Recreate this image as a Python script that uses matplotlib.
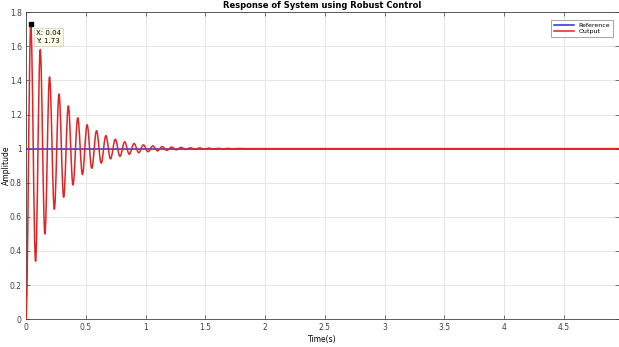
import matplotlib
matplotlib.use("Agg")
import matplotlib.pyplot as plt
from matplotlib.path import Path
from matplotlib.patches import PathPatch
from matplotlib.lines import Line2D

# ---- data ----
peak_t = [0.04, 0.119, 0.197, 0.276, 0.354, 0.433, 0.511, 0.590, 0.668, 0.747,
          0.825, 0.904, 0.982, 1.061, 1.139, 1.218, 1.296, 1.375, 1.453, 1.532,
          1.610, 1.689, 1.767]
peak_y = [1.73, 1.58, 1.42, 1.32, 1.25, 1.18, 1.14, 1.105, 1.076, 1.055,
          1.04, 1.03, 1.022, 1.016, 1.012, 1.009, 1.007, 1.005, 1.004, 1.003,
          1.002, 1.0015, 1.001]
trough_t = [0.080, 0.158, 0.237, 0.315, 0.393, 0.472, 0.550, 0.629, 0.707, 0.786,
            0.864, 0.943, 1.021, 1.100, 1.178, 1.257, 1.335, 1.414, 1.492, 1.571,
            1.649, 1.728]
trough_y = [0.34, 0.50, 0.645, 0.715, 0.787, 0.848, 0.885, 0.915, 0.94, 0.955,
            0.967, 0.976, 0.982, 0.987, 0.990, 0.993, 0.995, 0.996, 0.997, 0.998,
            0.9985, 0.999]
t_start, y_start = 0.0, 0.0
settle_t, settle_y = 1.85, 1.0
t_end, y_end = 5.0, 1.0
ref_t = [0.0, 5.0]
ref_y = [1.0, 1.0]
tip_x, tip_y = 0.04, 1.73

# output extrema in order: start, peak, trough, peak, ...
ext_t = [t_start]
ext_y = [y_start]
for i in range(len(peak_t)):
    ext_t.append(peak_t[i]); ext_y.append(peak_y[i])
    if i < len(trough_t):
        ext_t.append(trough_t[i]); ext_y.append(trough_y[i])
ext_t.append(settle_t); ext_y.append(settle_y)

# smooth path between extrema (horizontal tangents at each extremum)
verts = [(ext_t[0], ext_y[0])]
codes = [Path.MOVETO]
k = 0.36
for i in range(1, len(ext_t)):
    t0, y0 = ext_t[i - 1], ext_y[i - 1]
    t1, y1 = ext_t[i], ext_y[i]
    dt = t1 - t0
    verts += [(t0 + k * dt, y0), (t1 - k * dt, y1), (t1, y1)]
    codes += [Path.CURVE4] * 3
verts.append((t_end, y_end))
codes.append(Path.LINETO)

fig = plt.figure(figsize=(6.19, 3.47), dpi=100)
ax = fig.add_axes([0.042, 0.080, 0.958, 0.885])

ref_c = "#2a2ae6"
out_c = "#e02424"
ax.plot(ref_t, ref_y, color=ref_c, lw=1.1, zorder=3)
ax.add_patch(PathPatch(Path(verts, codes), fill=False, ec=out_c, lw=1.1,
                       zorder=4, capstyle="round", joinstyle="round"))

ax.set_xlim(0, 4.96)
ax.set_ylim(0, 1.8)
ax.set_xticks([0, 0.5, 1, 1.5, 2, 2.5, 3, 3.5, 4, 4.5])
ax.set_xticklabels(["0", "0.5", "1", "1.5", "2", "2.5", "3", "3.5", "4", "4.5"])
ax.set_yticks([0, 0.2, 0.4, 0.6, 0.8, 1, 1.2, 1.4, 1.6, 1.8])
ax.set_yticklabels(["0", "0.2", "0.4", "0.6", "0.8", "1", "1.2", "1.4", "1.6", "1.8"])
ax.grid(True, color="#e6e6e6", lw=0.7)
ax.set_axisbelow(True)
ax.tick_params(direction="in", length=3, width=0.5, colors="#404040",
               labelsize=5.5, top=True, right=True, pad=3)
for s in ax.spines.values():
    s.set_color("#404040")
    s.set_linewidth(0.6)

ax.set_title("Response of System using Robust Control", fontsize=6,
             fontweight="bold", pad=3)
ax.set_xlabel("Time(s)", fontsize=5.5, labelpad=2)
ax.set_ylabel("Amplitude", fontsize=5.5)
ax.yaxis.set_label_coords(-0.026, 0.5)

handles = [Line2D([], [], color=ref_c, lw=1.1), Line2D([], [], color=out_c, lw=1.1)]
leg = ax.legend(handles, ["Reference", "Output"], loc="upper right", fontsize=4.5,
                frameon=True, fancybox=False, borderpad=0.4, handlelength=3.2,
                labelspacing=0.2, bbox_to_anchor=(0.995, 0.985))
leg.get_frame().set_edgecolor("#606060")
leg.get_frame().set_linewidth(0.5)

# data tip
ax.plot([tip_x], [tip_y], marker="s", color="black", ms=3.5, zorder=6)
ax.annotate(f"X: {tip_x:.2f}\nY: {tip_y:.2f}", xy=(tip_x, tip_y),
            xytext=(4, -4), textcoords="offset points", ha="left", va="top",
            fontsize=5, linespacing=1.4,
            bbox=dict(boxstyle="square,pad=0.3", fc="#fdfde8", ec="#c8c8c8", lw=0.5),
            zorder=7)

plt.savefig("out.png", dpi=100)
